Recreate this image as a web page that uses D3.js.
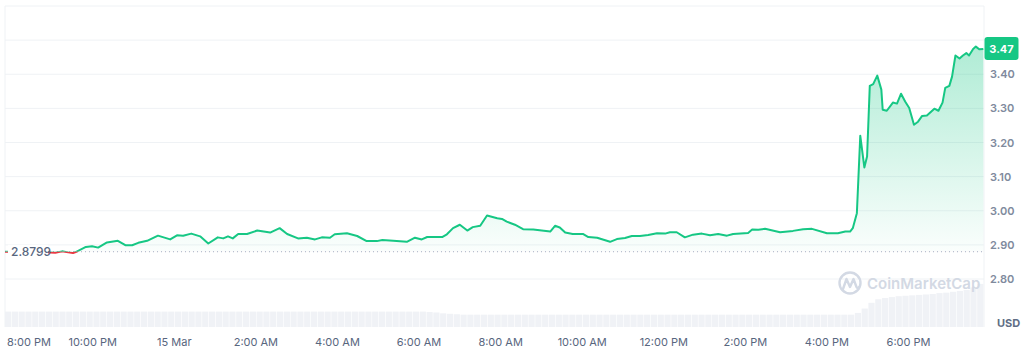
<!DOCTYPE html>
<html>
<head>
<meta charset="utf-8">
<script src="https://cdn.jsdelivr.net/npm/d3@7"></script>
<style>
  html,body{margin:0;padding:0;background:#fff;}
  svg{display:block;font-family:Inter,"Noto Sans",sans-serif;}
</style>
</head>
<body>
<div id="chart"></div>
<script>
// series start (local time) and minutes from start for every price sample
const startTime = new Date(2024, 2, 14, 19, 51);
const minutes = [0,66,74,84,93,100,104,119,128,137,150,166,177,187,196,209,225,243,253,262,274,287,299,313,321,328,335,343,356,371,
  390,404,415,431,444,456,466,478,485,503,518,532,547,555,571,591,603,613,621,643,650,659,669,680,688,699,709,724,731,738,
  750,762,777,802,809,816,824,835,850,858,871,890,900,912,922,934,946,959,971,978,988,1000,1012,1025,1037,1049,1062,1071,1093,1099,
  1108,1118,1140,1159,1174,1187,1209,1225,1236,1243,1247,1253,1258,1264,1268,1272,1277,1283,1289,1291,1297,1306,1312,1318,1324,1330,
  1337,1343,1349,1356,1367,1373,1379,1383,1389,1393,1398,1404,1409,1414,1418,1424,1428,1433,1439];
const prices = [2.8799,2.878,2.877,2.881,2.878,2.876,2.879,2.894,2.896,2.892,2.907,2.912,2.899,2.899,2.906,2.912,2.927,2.916,2.928,2.927,
  2.933,2.925,2.904,2.922,2.919,2.925,2.919,2.932,2.932,2.942,2.936,2.949,2.932,2.919,2.921,2.916,2.922,2.921,2.931,2.934,
  2.926,2.911,2.911,2.914,2.912,2.909,2.921,2.916,2.923,2.923,2.931,2.949,2.959,2.942,2.952,2.956,2.986,2.978,2.976,2.968,
  2.959,2.946,2.945,2.939,2.956,2.951,2.936,2.932,2.932,2.923,2.921,2.909,2.917,2.920,2.926,2.926,2.929,2.934,2.933,2.937,
  2.937,2.922,2.930,2.933,2.928,2.932,2.927,2.932,2.935,2.945,2.944,2.947,2.937,2.941,2.946,2.947,2.934,2.934,2.939,2.939,
  2.949,2.993,3.220,3.127,3.159,3.366,3.371,3.396,3.355,3.296,3.293,3.317,3.314,3.343,3.320,3.301,3.252,3.261,3.278,3.279,
  3.299,3.293,3.317,3.360,3.366,3.393,3.455,3.446,3.455,3.462,3.455,3.474,3.481,3.473,3.474];
// 24h rolling volume, one bar per 10 minutes (millions USD)
const volumeStepMin = 10;
const volume = [
  35,35,35,35,35,35,35,35,35,35,35,35,
  35,35,35,35,35,35,35,35,35,35,35,35,
  35,35,35,35,35,35,35,35,35,35,35,35,
  35,35,35,35,35,35,35,35,35,35,35,35,
  35,35,35,35,35,35,35,35,35,35,35,35,
  35,35,34,33,31,30,29,28,28,28,28,28,
  28,28,28,28,28,28,28,28,28,28,28,28,
  28,28,28,28,28,28,28,28,28,28,28,28,
  28,28,28,28,28,28,28,28,28,28,28,28,
  28,28,28,28,28,28,28,28,28,28,28,28,
  28,28,28,28,28,32,42,55,63,66,68,70,
  71,72,73,74,75,77,78,80,82,84,90,98];
const openPrice = 2.8799;
const yTickValues = [2.80,2.90,3.00,3.10,3.20,3.30,3.40];
const gridValues = [2.80,2.90,3.00,3.10,3.20,3.30,3.40,3.50,3.60];

const W = 1033, H = 351;
const plotL = 5, plotR = 984, plotT = 6, plotB = 327;
const green = "#16c784", red = "#ea3943";

const svg = d3.select("#chart").append("svg").attr("width", W).attr("height", H);
const defs = svg.append("defs");

const endTime = d3.timeMinute.offset(startTime, 1440);
const x = d3.scaleTime().domain([startTime, endTime]).range([plotL, plotR]);
const y = d3.scaleLinear().domain([2.80, 3.60]).range([279, 6]);
const yv = d3.scaleLinear().domain([0, 100]).range([plotB, 283]);

const data = minutes.map((m, i) => ({t: d3.timeMinute.offset(startTime, m), v: prices[i]}));
const baseY = y(openPrice);

// frame + grid
svg.append("g").selectAll("line").data(gridValues).join("line")
  .attr("x1", plotL).attr("x2", plotR).attr("y1", d => y(d)).attr("y2", d => y(d))
  .attr("stroke", "#eff2f5").attr("stroke-width", 1);
svg.append("line").attr("x1", plotL).attr("x2", plotL).attr("y1", plotT).attr("y2", plotB).attr("stroke", "#eff2f5");
svg.append("line").attr("x1", plotR).attr("x2", plotR).attr("y1", plotT).attr("y2", plotB).attr("stroke", "#eff2f5");

// volume bars
svg.append("g").selectAll("rect").data(volume).join("rect")
  .attr("x", (d, i) => x(d3.timeMinute.offset(startTime, i * volumeStepMin)))
  .attr("width", (d, i) => Math.max(0, x(d3.timeMinute.offset(startTime, (i + 1) * volumeStepMin)) - x(d3.timeMinute.offset(startTime, i * volumeStepMin)) - 0.6))
  .attr("y", d => yv(d)).attr("height", d => plotB - yv(d))
  .attr("fill", "#f0f2f6");

// watermark
const wm = svg.append("g");
wm.append("circle").attr("cx", 850).attr("cy", 283).attr("r", 10.5).attr("fill", "none")
  .attr("stroke", "#d3d9e4").attr("stroke-width", 2.4);
wm.append("path").attr("d", "M843,289 L846.5,279 L850,287 L853.5,279 L856.5,287 Q857.5,289 859,287")
  .attr("fill", "none").attr("stroke", "#d3d9e4").attr("stroke-width", 2.4).attr("stroke-linejoin", "round").attr("stroke-linecap", "round");
wm.append("text").attr("x", 867).attr("y", 288.5).attr("font-size", 15).attr("font-weight", 600)
  .attr("fill", "#d3d9e4").text("CoinMarketCap");

// gradients and clips
const gUp = defs.append("linearGradient").attr("id", "gUp").attr("gradientUnits", "userSpaceOnUse")
  .attr("x1", 0).attr("x2", 0).attr("y1", y(3.48)).attr("y2", baseY);
gUp.append("stop").attr("offset", 0).attr("stop-color", green).attr("stop-opacity", 0.34);
gUp.append("stop").attr("offset", 1).attr("stop-color", green).attr("stop-opacity", 0.02);
defs.append("clipPath").attr("id", "clipUp").append("rect").attr("x", 0).attr("y", 0).attr("width", W).attr("height", baseY);
defs.append("clipPath").attr("id", "clipDown").append("rect").attr("x", 0).attr("y", baseY).attr("width", W).attr("height", H - baseY);

const area = d3.area().x(d => x(d.t)).y0(baseY).y1(d => y(d.v));
const line = d3.line().x(d => x(d.t)).y(d => y(d.v));

svg.append("path").datum(data).attr("d", area).attr("fill", "url(#gUp)").attr("clip-path", "url(#clipUp)");
svg.append("path").datum(data).attr("d", area).attr("fill", red).attr("fill-opacity", 0.08).attr("clip-path", "url(#clipDown)");

// baseline
svg.append("line").attr("x1", plotL).attr("x2", plotR).attr("y1", baseY).attr("y2", baseY)
  .attr("stroke", "#a6b0c3").attr("stroke-width", 1).attr("stroke-dasharray", "1,3");

svg.append("path").datum(data).attr("d", line).attr("fill", "none").attr("stroke", green)
  .attr("stroke-width", 2).attr("stroke-linejoin", "round").attr("clip-path", "url(#clipUp)");
svg.append("path").datum(data).attr("d", line).attr("fill", "none").attr("stroke", red)
  .attr("stroke-width", 2).attr("stroke-linejoin", "round").attr("clip-path", "url(#clipDown)");

// open price label
svg.append("rect").attr("x", 8).attr("y", baseY - 7).attr("width", 40).attr("height", 14).attr("fill", "#fff");
svg.append("text").attr("x", 11).attr("y", baseY + 4.5).attr("font-size", 12).attr("font-weight", 500)
  .attr("fill", "#58667e").text(d3.format(".4f")(openPrice));

// y axis labels
svg.append("g").selectAll("text").data(yTickValues).join("text")
  .attr("x", 990).attr("y", d => y(d) + 4).attr("font-size", 11).attr("font-weight", 600)
  .attr("fill", "#808a9d").text(d => d3.format(".2f")(d));
svg.append("text").attr("x", 997).attr("y", 326.5).attr("font-size", 11).attr("font-weight", 700)
  .attr("fill", "#616e85").text("USD");

// current price tag
const last = data[data.length - 1];
svg.append("rect").attr("x", 984.5).attr("y", y(last.v) - 12).attr("width", 34).attr("height", 23).attr("rx", 3)
  .attr("fill", green);
svg.append("text").attr("x", 1001.5).attr("y", y(last.v) + 4).attr("text-anchor", "middle")
  .attr("font-size", 11).attr("font-weight", 700).attr("fill", "#fff").text(d3.format(".2f")(Math.floor(last.v * 100) / 100));

// x axis labels
const fmt = d => d.getHours() === 0 ? d3.timeFormat("%-d %b")(d) : d3.timeFormat("%-I:%M %p")(d);
const xt = svg.append("g").selectAll("text").data(x.ticks(d3.timeHour.every(2))).join("text")
  .attr("x", d => x(d)).attr("y", 346).attr("text-anchor", "middle")
  .attr("font-size", 11).attr("font-weight", 400).attr("fill", "#58667e").text(fmt);
xt.each(function(d) {
  const w = this.getComputedTextLength();
  const cx = x(d);
  if (cx - w / 2 < 7) d3.select(this).attr("x", 7 + w / 2);
});
</script>
</body>
</html>
